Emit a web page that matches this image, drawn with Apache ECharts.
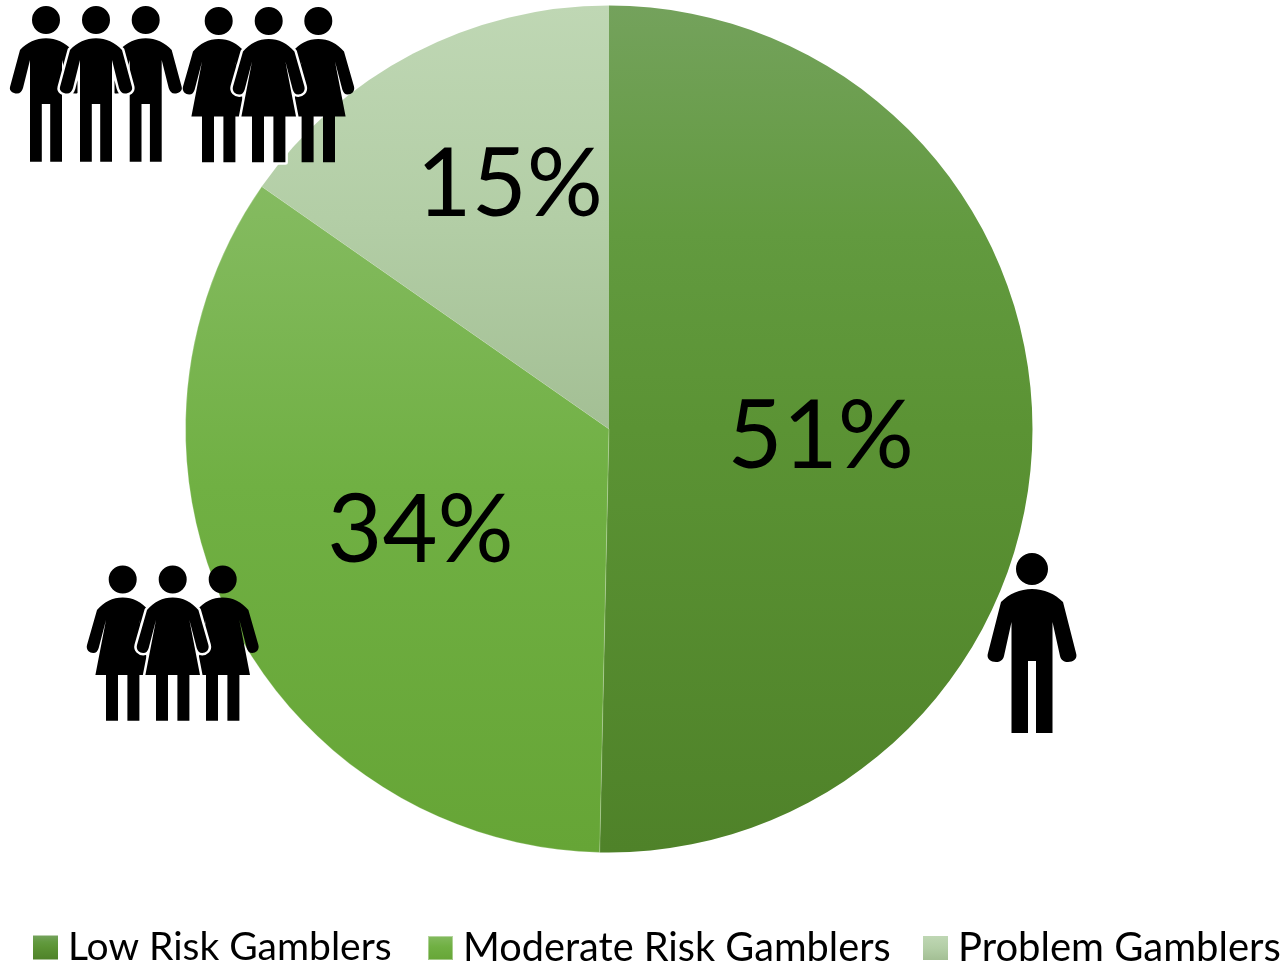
<!DOCTYPE html>
<html>
<head>
<meta charset="utf-8">
<style>html,body{margin:0;padding:0;background:#fff;overflow:hidden}#c{width:1284px;height:964px}</style>
<script src="https://cdn.jsdelivr.net/npm/echarts@6/dist/echarts.min.js"></script>
</head>
<body>
<div id="c"></div>
<script>
const categories = ['Low Risk Gamblers', 'Moderate Risk Gamblers', 'Problem Gamblers'];
const shares = [50.35, 34.35, 15.3];
const shareLabels = ['51%', '34%', '15%'];

const cx = 609, cy = 429, R = 423.5;
const gradStops = [
  [[0, '#74A25C'], [0.27, '#629A3F'], [0.5, '#5B9334'], [1, '#4F8229']],
  [[0, '#85BB61'], [0.45, '#70B043'], [1, '#66A536']],
  [[0, '#BFD7B4'], [0.5, '#B3CEA6'], [1, '#A3BF94']]
];
const gradSpans = [[5, 852], [186, 852], [5, 429]];
const labelOffsets = [[-3, 6], [3, 5], [0, -53]];
const legendLefts = [33, 427, 923];
const legendFontSizes = [39, 39.7, 40];

const stops = i => gradStops[i].map(s => ({offset:s[0], color:s[1]}));

const MAN = 'M-16 16A16 16 0 1 0 16 16A16 16 0 1 0-16 16Z' +
  'M0 36C12 36 23 41 31 49L44 100C46 106 41 109 36 109C32 109 29 107 28 103L20.5 69L20.5 180L4 180L4 108L-4 108L-4 180L-20.5 180L-20.5 69L-28 103C-29 107-32 109-36 109C-41 109-46 106-44 100L-31 49C-23 41-12 36 0 36Z';
const MAN_SMALL = 'M-14 14A14 14 0 1 0 14 14A14 14 0 1 0-14 14Z' +
  'M0 32.3C10 32.3 19 36.5 26 44L36 81C37 85 33 87.5 29 87.5C26 87.5 24 85.5 23 82L16 54L16 155.7L4.2 155.7L4.2 98L-4.2 98L-4.2 155.7L-16 155.7L-16 54L-23 82C-24 85.5-26 87.5-29 87.5C-33 87.5-37 85-36 81L-26 44C-19 36.5-10 32.3 0 32.3Z';
const WOMAN = 'M-14 14.5A14 14 0 1 0 14 14.5A14 14 0 1 0-14 14.5Z' +
  'M0 32.5C10 32.5 19 37 25.7 45L35.7 80C37 85 33 88 29.5 88C26.5 88 25 86 24 83L16.7 55L27.3 110L16.7 110L16.7 155.7L4.7 155.7L4.7 110L-4.7 110L-4.7 155.7L-16.7 155.7L-16.7 110L-27.3 110L-16.7 55L-24 83C-25 86-26.5 88-29.5 88C-33 88-37 85-35.7 80L-25.7 45C-19 37-10 32.5 0 32.5Z';
echarts.graphic.registerShape('manIcon', echarts.graphic.extendPath(MAN));
echarts.graphic.registerShape('manSmallIcon', echarts.graphic.extendPath(MAN_SMALL));
echarts.graphic.registerShape('womanIcon', echarts.graphic.extendPath(WOMAN));

function figure(type, x, y, halo) {
  const out = [];
  if (halo) out.push({type, x, y, z:10, style:{fill:'#fff', stroke:'#fff', lineWidth:5, lineJoin:'round'}});
  out.push({type, x, y, z:10, style:{fill:'#000'}});
  return out;
}
const icons = [
  ...figure('manSmallIcon', 46, 6), ...figure('manSmallIcon', 145.7, 6), ...figure('manSmallIcon', 96, 6, true),
  ...figure('womanIcon', 218.7, 6.5), ...figure('womanIcon', 318.3, 6.5), ...figure('womanIcon', 268.7, 6.5, true),
  ...figure('womanIcon', 122.7, 565), ...figure('womanIcon', 222.7, 565), ...figure('womanIcon', 172.7, 565, true),
  ...figure('manIcon', 1032, 553)
];

const chart = echarts.init(document.getElementById('c'), null, {renderer:'canvas'});
chart.setOption({
  animation:false,
  backgroundColor:'#fff',
  legend:categories.map((name,i)=>({
    left:legendLefts[i], top:928, padding:0, itemWidth:25, itemHeight:24, icon:'rect',
    selectedMode:false,
    textStyle:{fontFamily:'Lato', fontSize:legendFontSizes[i], color:'#000', padding:[0,0,0,5]},
    data:[{name, itemStyle:{color:new echarts.graphic.LinearGradient(0,0,0,1,stops(i))}}]
  })),
  series:[{
    type:'pie', center:[cx,cy], radius:[0,R], startAngle:90, clockwise:true,
    silent:true, avoidLabelOverlap:false, labelLine:{show:false},
    label:{show:true, position:'inner', rotate:0, fontFamily:'Lato', fontSize:95, color:'#000'},
    data:categories.map((name,i)=>({
      name, value:shares[i],
      label:{formatter:shareLabels[i], offset:labelOffsets[i]},
      itemStyle:{
        borderColor: i === 1 ? 'rgba(255,255,255,0.4)' : 'transparent',
        borderWidth: i === 1 ? 0.6 : 0,
        color:new echarts.graphic.LinearGradient(0,gradSpans[i][0],0,gradSpans[i][1],stops(i),true)
      }
    }))
  }],
  graphic:{elements:icons}
});
</script>
</body>
</html>
